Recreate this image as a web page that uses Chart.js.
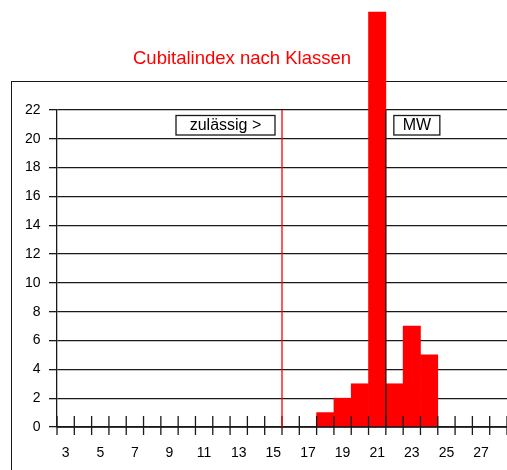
<!DOCTYPE html>
<html lang="de">
<head>
<meta charset="utf-8">
<title>Cubitalindex nach Klassen</title>
<script src="https://cdn.jsdelivr.net/npm/chart.js@4.4.0/dist/chart.umd.min.js"></script>
<style>
  html, body { margin: 0; padding: 0; background: #fff; }
  #wrap { width: 507px; height: 470px; }
</style>
</head>
<body>
<div id="wrap"><canvas id="chartKlassen" width="507" height="470"></canvas></div>
<script>
// --- DATEN ---
const titel = 'Cubitalindex nach Klassen';
const klassen = [3, 4, 5, 6, 7, 8, 9, 10, 11, 12, 13, 14, 15, 16, 17, 18, 19, 20, 21, 22, 23, 24, 25, 26, 27, 28];
const anzahl = [null, null, null, null, null, null, null, null, null, null, null, null, null, null, null,
                1, 2, 3, 28.8, 3, 7, 5, null, null, null, null];
const yMax = 22;
const yStep = 2;
const grenzeZulaessig = 15.5;   // Grenze "zulässig >"
const mittelwert = 21.5;        // MW
const textZulaessig = 'zulässig >';
const textMW = 'MW';

const schrift = "'Liberation Sans', Arial, sans-serif";
const rot = '#ff0000';
const linie = '#1a1a1a';

// Klassenwert -> Pixel ueber die Kategorie-Skala
function klassePx(scale, wert) {
    return scale.getPixelForValue(wert - klassen[0]);
}

// --- PLUGIN: Rahmen, Titel, Striche, Markierungen ---
const rahmenPlugin = {
    id: 'rahmen',
    beforeDraw(chart) {
        const ctx = chart.ctx;
        ctx.save();
        ctx.fillStyle = '#fff';
        ctx.fillRect(0, 0, chart.width, chart.height);
        ctx.strokeStyle = linie;
        ctx.lineWidth = 1;
        ctx.strokeRect(11.5, 81.5, 1000, 1000);
        ctx.fillStyle = rot;
        ctx.font = '18.5px ' + schrift;
        ctx.textAlign = 'center';
        ctx.textBaseline = 'middle';
        ctx.fillText(titel, 242, 59);
        ctx.restore();
    },
    afterDatasetsDraw(chart) {
        const ctx = chart.ctx;
        const x = chart.scales.x;
        const y = chart.scales.y;
        const unten = y.getPixelForValue(0);
        const oben = y.getPixelForValue(yMax);
        ctx.save();

        // x-Achse und Striche an den Klassengrenzen
        ctx.strokeStyle = linie;
        ctx.lineWidth = 1.3;
        ctx.beginPath();
        ctx.moveTo(x.left, unten);
        ctx.lineTo(x.right, unten);
        for (let i = 0; i <= klassen.length; i++) {
            const px = klassePx(x, klassen[0] - 0.5 + i);
            ctx.moveTo(px, unten - 11);
            ctx.lineTo(px, unten + 8);
        }
        ctx.stroke();

        // Grenze zulässig
        const gx = klassePx(x, grenzeZulaessig);
        ctx.strokeStyle = rot;
        ctx.lineWidth = 1.3;
        ctx.beginPath();
        ctx.moveTo(gx, oben);
        ctx.lineTo(gx, unten);
        ctx.stroke();

        // Mittelwert
        const mx = klassePx(x, mittelwert);
        ctx.strokeStyle = linie;
        ctx.beginPath();
        ctx.moveTo(mx, oben);
        ctx.lineTo(mx, unten);
        ctx.stroke();

        // Beschriftungskaesten
        ctx.font = '16px ' + schrift;
        ctx.textBaseline = 'middle';
        ctx.textAlign = 'center';
        ctx.lineWidth = 1.3;
        const boxY = oben + 5.5;
        const boxH = 19.5;

        ctx.fillStyle = '#fff';
        ctx.fillRect(gx - 106, boxY, 99, boxH);
        ctx.strokeRect(gx - 106, boxY, 99, boxH);
        ctx.fillStyle = '#000';
        ctx.fillText(textZulaessig, gx - 56.5, boxY + boxH / 2 + 0.5);

        ctx.fillStyle = '#fff';
        ctx.fillRect(mx + 8, boxY, 46, boxH);
        ctx.strokeRect(mx + 8, boxY, 46, boxH);
        ctx.fillStyle = '#000';
        ctx.fillText(textMW, mx + 31, boxY + boxH / 2 + 0.5);

        ctx.restore();
    }
};

// --- GRAFIK ---
Chart.defaults.font.family = schrift;
Chart.defaults.color = '#000';

const chartKlassen = new Chart(document.getElementById('chartKlassen').getContext('2d'), {
    type: 'bar',
    data: {
        labels: klassen.map(String),
        datasets: [{
            label: 'Anzahl',
            data: anzahl,
            backgroundColor: rot,
            borderWidth: 0,
            barPercentage: 1,
            categoryPercentage: 1,
            clip: false
        }]
    },
    options: {
        responsive: false,
        animation: false,
        devicePixelRatio: 1,
        layout: { padding: { top: 110, left: 0, right: 0, bottom: 0 } },
        plugins: {
            legend: { display: false },
            title: { display: false },
            tooltip: { enabled: false }
        },
        scales: {
            x: {
                grid: { display: false, drawTicks: true, tickLength: 17.5 },
                border: { display: true, color: linie, width: 1.3 },
                ticks: {
                    autoSkip: false,
                    maxRotation: 0,
                    padding: 0,
                    font: { size: 14 },
                    callback: (val, idx) => klassen[idx] % 2 === 1 ? String(klassen[idx]) : ''
                },
                afterFit: (scale) => { scale.height = 43; }
            },
            y: {
                min: 0,
                max: yMax,
                ticks: { stepSize: yStep, padding: 8.5, font: { size: 14 } },
                grid: { color: linie, lineWidth: 1.3, tickLength: 8 },
                border: { display: true, color: linie, width: 1.3 },
                afterFit: (scale) => { scale.width = 57; }
            }
        }
    },
    plugins: [rahmenPlugin]
});
</script>
</body>
</html>
